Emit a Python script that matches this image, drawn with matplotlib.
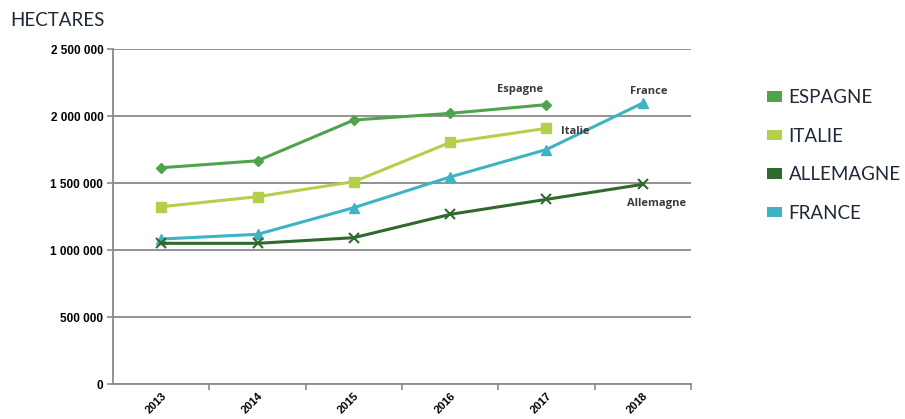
import matplotlib
matplotlib.use("Agg")
import matplotlib.pyplot as plt
from matplotlib.patches import Patch

years = ["2013", "2014", "2015", "2016", "2017", "2018"]
espagne = [1614000, 1666000, 1970000, 2020000, 2085000, None]
italie = [1323000, 1398000, 1510000, 1803000, 1908000, None]
allemagne = [1050000, 1050000, 1092000, 1266000, 1378000, 1490000]
france = [1082000, 1117000, 1316000, 1545000, 1750000, 2097000]
y_ticks = [0, 500000, 1000000, 1500000, 2000000, 2500000]
y_tick_labels = ["0", "500 000", "1 000 000", "1 500 000", "2 000 000", "2 500 000"]
legend_labels = ["ESPAGNE", "ITALIE", "ALLEMAGNE", "FRANCE"]
line_labels = ["Espagne", "Italie", "Allemagne", "France"]

c_esp = "#4fa34b"
c_ita = "#b4cf4b"
c_all = "#2f6a2c"
c_fra = "#3eb3c3"

fig = plt.figure(figsize=(9.05, 4.19), dpi=100)
ax = fig.add_axes([0.1249, 0.0835, 0.6386, 0.7995])

x = list(range(len(years)))

def pts(vals):
    xs = [i for i, v in zip(x, vals) if v is not None]
    ys = [v for v in vals if v is not None]
    return xs, ys

xs, ys = pts(espagne)
ax.plot(xs, ys, color=c_esp, lw=2.2, marker="D", ms=5.5, zorder=3)
xs, ys = pts(italie)
ax.plot(xs, ys, color=c_ita, lw=2.2, marker="s", ms=7.5, zorder=3)
xs, ys = pts(france)
ax.plot(xs, ys, color=c_fra, lw=2.2, marker="^", ms=7, zorder=3)
xs, ys = pts(allemagne)
ax.plot(xs, ys, color=c_all, lw=2.2, marker="x", ms=7, mew=1.5, zorder=4)

ax.set_xlim(-0.5, 5.5)
ax.set_ylim(0, 2500000)
ax.set_yticks(y_ticks)
ax.set_yticklabels(y_tick_labels, fontsize=8.5, fontweight="bold", family="Liberation Sans")
ax.yaxis.grid(True, color="#8a8a8a", lw=1.3)
ax.set_axisbelow(True)

ax.set_xticks(x)
ax.set_xticklabels(years, rotation=45, ha="right", va="top", rotation_mode="anchor",
                   fontsize=8, fontweight="bold", family="Liberation Sans")
ax.tick_params(axis="x", which="major", length=0, pad=5)
ax.set_xticks([i + 0.5 for i in range(len(years))], minor=True)
ax.tick_params(axis="x", which="minor", length=4, color="#8a8a8a", width=1.2)
ax.tick_params(axis="y", length=4, color="#8a8a8a", width=1.2, pad=3)

for s in ["top", "right"]:
    ax.spines[s].set_visible(False)
for s in ["left", "bottom"]:
    ax.spines[s].set_color("#8a8a8a")
    ax.spines[s].set_linewidth(1.3)

lab_kw = dict(fontsize=8, fontweight="bold", color="#3a3a3a", family="Open Sans", ha="center", va="center")
ax.annotate(line_labels[0], xy=(4, espagne[4]), xytext=(-19, 11), textcoords="offset points", **lab_kw)
ax.annotate(line_labels[1], xy=(4, italie[4]), xytext=(21, -2), textcoords="offset points", **lab_kw)
ax.annotate(line_labels[2], xy=(5, allemagne[5]), xytext=(10, -14), textcoords="offset points", **lab_kw)
ax.annotate(line_labels[3], xy=(5, france[5]), xytext=(4, 8), textcoords="offset points", **lab_kw)

fig.text(0.011, 0.952, "HECTARES", fontsize=13.5, color="#1f2937", family="Lato",
         fontweight="normal", ha="left", va="center")

handles = [Patch(facecolor=c) for c in [c_esp, c_ita, c_all, c_fra]]
leg = fig.legend(handles, legend_labels, loc="upper left", bbox_to_anchor=(0.829, 0.828),
                 frameon=False, handlelength=0.8, handleheight=0.5, handletextpad=0.35,
                 labelspacing=1.15,
                 prop={"family": "Lato", "weight": "normal", "size": 13.5})
for t in leg.get_texts():
    t.set_color("#1f2937")

fig.savefig("out.png", dpi=100)
